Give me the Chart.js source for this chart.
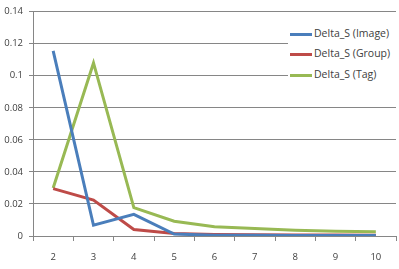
<!DOCTYPE html>
<html>
<head>
<meta charset="utf-8">
<script src="https://cdn.jsdelivr.net/npm/chart.js@4/dist/chart.umd.min.js"></script>
<style>
  html, body { margin: 0; padding: 0; background: #fff; }
  #wrap { position: relative; width: 399px; height: 269px; }
  #legend {
    position: absolute; left: 288px; top: 20px; width: 108px; height: 70px;
    background: #fff; font-family: "Open Sans", sans-serif; font-size: 10.5px; color: #404040;
  }
  #legend .row { position: absolute; left: 2px; height: 14px; line-height: 14px; white-space: nowrap; }
  #legend .swatch { display: inline-block; width: 22px; height: 3px; vertical-align: middle; margin-right: 2px; }
</style>
</head>
<body>
<div id="wrap">
  <canvas id="chart" width="399" height="269"></canvas>
  <div id="legend"></div>
</div>
<script>
// categories and series
const categories = ['2', '3', '4', '5', '6', '7', '8', '9', '10'];
const imageValues = [0.1155, 0.0067, 0.0135, 0.0012, 0.0005, 0.0004, 0.0003, 0.0003, 0.0003];
const groupValues = [0.0296, 0.0224, 0.0041, 0.0016, 0.0010, 0.0008, 0.0007, 0.0006, 0.0005];
const tagValues = [0.0300, 0.1080, 0.0177, 0.0092, 0.0058, 0.0047, 0.0036, 0.0030, 0.0026];
const seriesNames = ['Delta_S (Image)', 'Delta_S (Group)', 'Delta_S (Tag)'];
const seriesColors = ['#4a7ebb', '#be4b48', '#98b954'];

const tickFont = { family: 'Open Sans', size: 9.5 };

const chart = new Chart(document.getElementById('chart'), {
  type: 'line',
  data: {
    labels: categories,
    datasets: [imageValues, groupValues, tagValues].map((vals, i) => ({
      label: seriesNames[i],
      data: vals,
      borderColor: seriesColors[i],
      backgroundColor: seriesColors[i],
      borderWidth: 3,
      pointRadius: 0,
      tension: 0,
    })),
  },
  options: {
    responsive: false,
    animation: false,
    layout: { padding: { top: 7, right: 3, left: 0, bottom: 0 } },
    plugins: { legend: { display: false }, tooltip: { enabled: false } },
    scales: {
      x: {
        offset: true,
        grid: { offset: true, drawOnChartArea: false, drawTicks: true, tickLength: 5, color: '#868686' },
        border: { color: '#868686' },
        ticks: { font: tickFont, color: '#404040', padding: 11 },
        afterFit: (s) => { s.height = 33; },
      },
      y: {
        min: 0,
        max: 0.14,
        ticks: {
          stepSize: 0.02, font: tickFont, color: '#404040', padding: 6,
          callback: (v) => String(parseFloat(v.toFixed(2))),
        },
        grid: { color: '#868686', tickLength: 4 },
        border: { color: '#868686' },
        afterFit: (s) => { s.width = 33; },
      },
    },
  },
});

// legend drawn as html over the plot
const legend = document.getElementById('legend');
const rowTops = [6, 26, 47];
seriesNames.forEach((name, i) => {
  const row = document.createElement('div');
  row.className = 'row';
  row.style.top = rowTops[i] + 'px';
  row.innerHTML = '<span class="swatch" style="background:' + seriesColors[i] + '"></span>' + name;
  legend.appendChild(row);
});
</script>
</body>
</html>
